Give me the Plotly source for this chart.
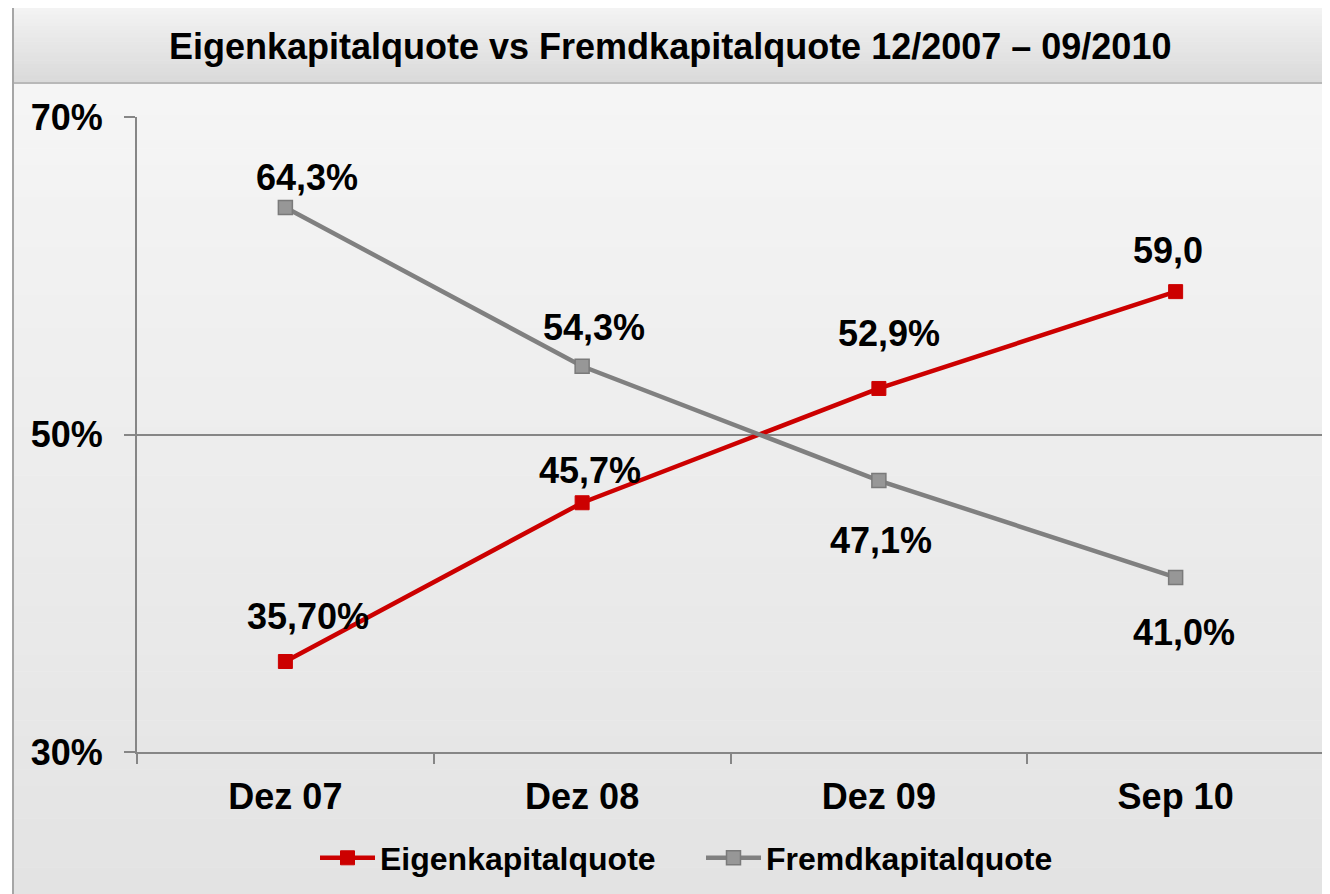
import plotly.graph_objects as go

categories = ["Dez 07", "Dez 08", "Dez 09", "Sep 10"]
eigen = [35.7, 45.7, 52.9, 59.0]
fremd = [64.3, 54.3, 47.1, 41.0]
eigen_labels = ["35,70%", "45,7%", "52,9%", "59,0"]
fremd_labels = ["64,3%", "54,3%", "47,1%", "41,0%"]
y_ticks = [30, 50, 70]
y_tick_text = ["30%", "50%", "70%"]
title_text = "Eigenkapitalquote vs Fremdkapitalquote 12/2007 – 09/2010"

# label offsets (pixels) relative to the points
eigen_shift = [(23, 45), (8, 32), (10, 55), (-8, 41)]
fremd_shift = [(22, 30), (12, 39), (2, -60), (8, -55)]

OFF = 8  # page body margin
W, H = 1330 - OFF, 894 - OFF
L, R, T, B = 137 - OFF, 1324 - OFF, 117 - OFF, 752 - OFF
FONT = "Liberation Sans, Arial, sans-serif"
RED = "#cc0000"
GRAY = "#808080"
AX = "#868686"

def px_x(p):
    return (p - OFF - L) / (R - L)

def px_y(p):
    return (B - (p - OFF)) / (B - T)

def lerp(c1, c2, t):
    return "#%02x%02x%02x" % tuple(round(a + (b - a) * t) for a, b in zip(c1, c2))

shapes = []
# body gradient
n = 50
y0, y1 = 83, 900
for i in range(n):
    a = y0 + (y1 - y0) * i / n
    b = y0 + (y1 - y0) * (i + 1) / n
    col = lerp((245, 245, 245), (227, 227, 227), i / (n - 1))
    shapes.append(dict(type="rect", xref="paper", yref="paper", layer="below",
                       x0=px_x(13), x1=px_x(1340), y0=px_y(a), y1=px_y(b + 0.5),
                       fillcolor=col, line=dict(width=0)))
# title gradient
n2 = 20
t0, t1 = 7, 83
for i in range(n2):
    a = t0 + (t1 - t0) * i / n2
    b = t0 + (t1 - t0) * (i + 1) / n2
    col = lerp((243, 243, 243), (218, 218, 218), i / (n2 - 1))
    shapes.append(dict(type="rect", xref="paper", yref="paper", layer="below",
                       x0=px_x(13), x1=px_x(1340), y0=px_y(a), y1=px_y(b + 0.5),
                       fillcolor=col, line=dict(width=0)))
# borders
shapes.append(dict(type="line", xref="paper", yref="paper", layer="below",
                   x0=px_x(13), x1=px_x(1340), y0=px_y(7), y1=px_y(7),
                   line=dict(color="#a6a6a6", width=2)))
shapes.append(dict(type="line", xref="paper", yref="paper", layer="below",
                   x0=px_x(13), x1=px_x(1340), y0=px_y(83), y1=px_y(83),
                   line=dict(color="#b8b8b8", width=2)))
shapes.append(dict(type="line", xref="paper", yref="paper", layer="below",
                   x0=px_x(13), x1=px_x(13), y0=px_y(7), y1=px_y(900),
                   line=dict(color="#a6a6a6", width=2)))

fig = go.Figure()
fig.add_trace(go.Scatter(
    x=categories, y=eigen, name="Eigenkapitalquote", mode="lines+markers",
    line=dict(color=RED, width=4.5),
    marker=dict(symbol="square", size=14, color=RED, line=dict(color=RED, width=1)),
))
fig.add_trace(go.Scatter(
    x=categories, y=fremd, name="Fremdkapitalquote", mode="lines+markers",
    line=dict(color=GRAY, width=4.5),
    marker=dict(symbol="square", size=14, color="#979797", line=dict(color="#7a7a7a", width=1.5)),
))

annotations = []
for c, v, t, (dx, dy) in zip(categories, eigen, eigen_labels, eigen_shift):
    annotations.append(dict(x=c, y=v, text=t, showarrow=False, xshift=dx, yshift=dy,
                            font=dict(family=FONT, size=36, color="black", weight="bold")))
for c, v, t, (dx, dy) in zip(categories, fremd, fremd_labels, fremd_shift):
    annotations.append(dict(x=c, y=v, text=t, showarrow=False, xshift=dx, yshift=dy,
                            font=dict(family=FONT, size=36, color="black", weight="bold")))
annotations.append(dict(xref="paper", yref="paper", x=px_x(670), y=px_y(47),
                        text=title_text, showarrow=False, xanchor="center", yanchor="middle",
                        font=dict(family=FONT, size=36, color="black", weight="bold")))

fig.update_layout(
    width=W, height=H,
    margin=dict(l=L, r=W - R, t=T, b=H - B, pad=0),
    paper_bgcolor="white", plot_bgcolor="rgba(0,0,0,0)",
    font=dict(family=FONT, size=36, color="black"),
    shapes=shapes, annotations=annotations,
    showlegend=True,
    legend=dict(orientation="h", x=px_x(701), xanchor="center", y=px_y(858), yanchor="middle",
                font=dict(family=FONT, size=32, color="black", weight="bold"),
                bgcolor="rgba(0,0,0,0)", itemwidth=55, entrywidth=316, tracegroupgap=0),
    xaxis=dict(type="category", range=[-0.5, 3.5], showgrid=False, zeroline=False,
               showline=True, linecolor=AX, linewidth=2,
               ticks="outside", tickson="boundaries", ticklen=10, tickcolor=AX, tickwidth=2,
               ticklabelstandoff=12,
               tickfont=dict(family=FONT, size=36, color="black", weight="bold")),
    yaxis=dict(range=[30, 70], tickvals=y_ticks, ticktext=y_tick_text,
               showgrid=True, gridcolor=AX, gridwidth=1.5, zeroline=False,
               showline=True, linecolor=AX, linewidth=2,
               ticks="outside", ticklen=11, tickcolor=AX, tickwidth=2,
               ticklabelstandoff=14,
               tickfont=dict(family=FONT, size=36, color="black", weight="bold")),
)

fig.write_html("out.html")
